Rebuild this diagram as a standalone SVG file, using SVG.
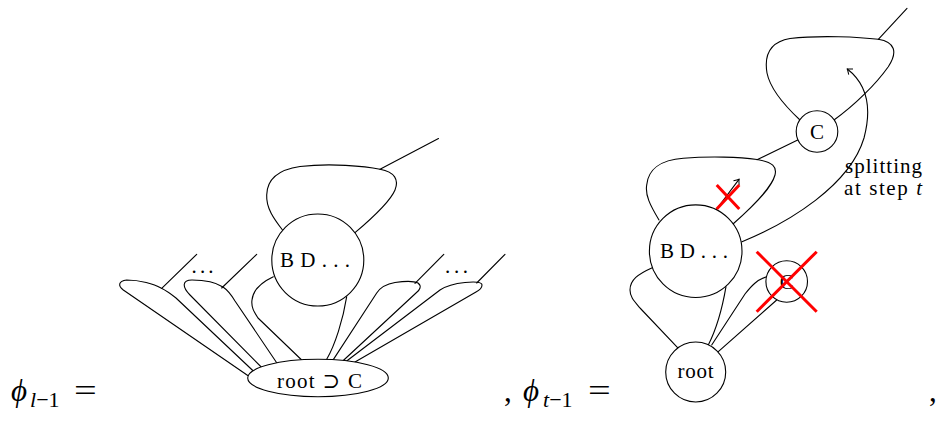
<svg xmlns="http://www.w3.org/2000/svg" width="939" height="424" viewBox="0 0 939 424">
<style>
.e{fill:none;stroke:#000;stroke-width:1.1;stroke-linecap:round;stroke-linejoin:round}
.n{fill:#fff;stroke:#000;stroke-width:1.1}
.t{font-family:"Liberation Serif","DejaVu Serif",serif;font-size:21px;fill:#000}
.m{font-family:"Liberation Serif","DejaVu Serif",serif;font-size:31px;fill:#000}
.s{font-family:"Liberation Serif","DejaVu Serif",serif;font-size:22px;fill:#000}
.x{stroke:#ff0000;stroke-width:3;fill:none}
</style>
<defs>
<marker id="arr" markerUnits="userSpaceOnUse" markerWidth="12" markerHeight="12" viewBox="-6 -6 12 12" refX="0" refY="0" orient="auto" overflow="visible">
<path d="M -4.5,-3.5 Q -1.5,-1 0,0 Q -1.5,1 -4.5,3.5" fill="none" stroke="#000" stroke-width="1"/>
</marker>
</defs>
<rect width="939" height="424" fill="#fff"/>

<!-- formula texts -->
<g id="formula">
<text class="m" x="11" y="401" font-style="italic">ϕ</text>
<text class="s" x="30" y="407"><tspan font-style="italic">l</tspan>−1</text>
<text class="m" transform="translate(74,401) scale(1.3,1)">=</text>
<text class="m" x="504" y="401">,</text>
<text class="m" x="523" y="401" font-style="italic">ϕ</text>
<text class="s" x="543" y="407"><tspan font-style="italic">t</tspan>−1</text>
<text class="m" transform="translate(588,401) scale(1.3,1)">=</text>
<text class="m" x="929" y="401">,</text>
</g>

<!-- left graph connectors -->
<g id="connectors-left">
<path class="e" d="M 282.5,230 C 274,219 266,208 266.7,195 C 267,180 276,170 300,166.5 C 330,163 365,166 380,169.3 C 395,172 399,180 395,190 C 390,202 370,220 355,232.7"/>
<line class="e" x1="380" y1="169.3" x2="438.5" y2="138.5"/>
<path class="e" d="M 273.3,276.7 C 262,282 253,290 252,300 C 251,307 254,312 258,318 L 301.7,360"/>
<path class="e" d="M 346.7,296.7 C 343,320 335,345 326.7,359.3"/>
<path class="e" d="M 248.5,376 L 123.3,290 C 118,286 118,281 126.7,280 C 140,280 154,284 161,288 C 167,291 171,294 176,298 L 253.3,371"/>
<line class="e" x1="161.7" y1="288.3" x2="196.7" y2="254.3"/>
<path class="e" d="M 261.7,367.5 L 190,295 C 182,287 182,280 192,280 C 205,280 217,283 223,287 C 229,291 232,296 235,301 L 276.7,362.7"/>
<line class="e" x1="221.7" y1="288" x2="256.7" y2="254.3"/>
<path class="e" d="M 333.3,359.6 L 376.7,293 C 380,288 386,284 395,282.5 C 405,281 414,281 418,283 C 422,286 420,290 416,293 L 343.3,360.5"/>
<line class="e" x1="415" y1="283.3" x2="443.8" y2="254.3"/>
<path class="e" d="M 346.7,361 L 440,290 C 446,286 455,283.5 465,282.5 C 475,281.5 482,282 482,285 C 482,288 480,290 476,292 L 355,362"/>
<line class="e" x1="476.7" y1="283" x2="505" y2="254.3"/>
<text class="t" x="191.5" y="273" textLength="22" lengthAdjust="spacing">. . .</text>
<text class="t" x="445" y="273" textLength="23" lengthAdjust="spacing">. . .</text>
</g>

<g id="left-BD">
<circle class="n" cx="317.8" cy="260" r="46"/>
<text class="t" x="280" y="267" textLength="70" lengthAdjust="spacing">B D . . .</text>
</g>
<g id="left-root">
<ellipse class="n" cx="318" cy="378" rx="70.3" ry="18.7"/>
<text class="t" x="277" y="388" textLength="85" lengthAdjust="spacing">root ⊃ C</text>
</g>

<!-- right graph connectors -->
<g id="connectors-right">
<path class="e" d="M 659,220 C 650,205 645,195 646.7,185 C 648,170 660,160 683.3,158.3 C 710,156 740,157 757,159.5 C 773,162 777,167 775,175 C 772,186 760,200 733,224"/>
<line class="e" x1="757" y1="159.8" x2="797.7" y2="140"/>
<path class="e" d="M 652.3,267.7 C 638,274 630,280 630,290 C 630,297 634,301 640,308 L 678.3,348.3"/>
<path class="e" d="M 726,286.7 C 722,310 716,330 708.3,345"/>
<path class="e" d="M 766.7,276.7 C 757,280 752,285 745,294 L 711.7,345"/>
<line class="e" x1="776.7" y1="300" x2="718.3" y2="351.7"/>
<path class="e" d="M 800,120 C 785,106 770,88 767,73 C 764,55 770,42 790,38.5 C 820,35 860,37 878.3,39.3 C 895,42 898,52 888.3,66.7 C 876,84 855,105 834,120"/>
<line class="e" x1="878.3" y1="39.3" x2="907" y2="8.3"/>
<line class="e" x1="716.7" y1="209" x2="739" y2="179.3" marker-end="url(#arr)"/>
<path class="e" d="M 742,241.7 C 790,222 850,185 864,138 C 872,108 868,85 847.3,69" marker-end="url(#arr)"/>
<text class="t" x="845" y="172.5" textLength="77" lengthAdjust="spacing">splitting</text>
<text class="t" x="844" y="195" textLength="78" lengthAdjust="spacing">at step <tspan font-style="italic">t</tspan></text>
</g>

<g id="right-BD">
<circle class="n" cx="695.7" cy="251.2" r="46.3"/>
<text class="t" x="660" y="258" textLength="68" lengthAdjust="spacing">B D . . .</text>
</g>
<g id="right-root">
<circle class="n" cx="695.7" cy="372" r="30"/>
<text class="t" x="677.5" y="378" textLength="36" lengthAdjust="spacing">root</text>
</g>
<g id="right-C">
<circle class="n" cx="817" cy="131.5" r="20.8"/>
<text class="t" x="817" y="138.5" text-anchor="middle">C</text>
</g>
<g id="right-C-crossed">
<circle class="n" cx="786.7" cy="281.5" r="20.8"/>
<text class="t" x="786.7" y="288.5" text-anchor="middle">C</text>
<line class="x" x1="756.7" y1="251.7" x2="816.7" y2="311.7"/>
<line class="x" x1="816.7" y1="251.7" x2="756.7" y2="311.7"/>
</g>
<g id="cross-small">
<line class="x" x1="716.7" y1="185" x2="739.3" y2="209"/>
<line class="x" x1="739.3" y1="185" x2="716.7" y2="209"/>
</g>
</svg>
